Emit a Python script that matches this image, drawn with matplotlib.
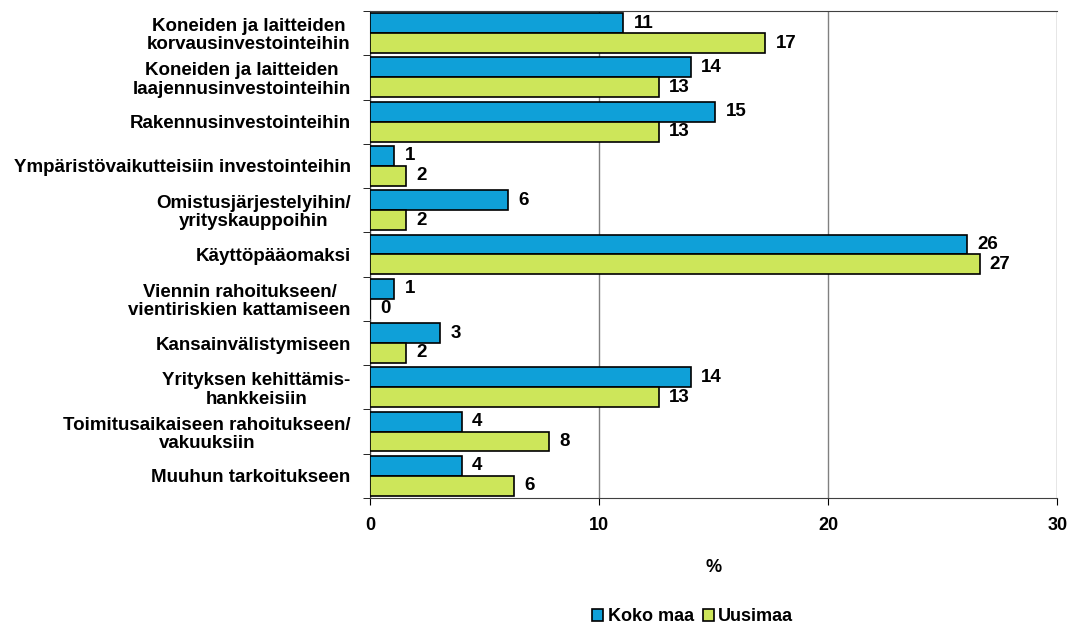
import matplotlib.pyplot as plt
import numpy as np

plt.rcParams['font.family'] = ['Liberation Sans', 'DejaVu Sans']
plt.rcParams['font.weight'] = 'bold'

categories = [
    'Koneiden ja laitteiden\nkorvausinvestointeihin',
    'Koneiden ja laitteiden\nlaajennusinvestointeihin',
    'Rakennusinvestointeihin',
    'Ympäristövaikutteisiin investointeihin',
    'Omistusjärjestelyihin/\nyrityskauppoihin',
    'Käyttöpääomaksi',
    'Viennin rahoitukseen/\nvientiriskien kattamiseen',
    'Kansainvälistymiseen',
    'Yrityksen kehittämis-\nhankkeisiin',
    'Toimitusaikaiseen rahoitukseen/\nvakuuksiin',
    'Muuhun tarkoitukseen',
]
koko_maa = [11.05, 14.0, 15.07, 1.05, 6.03, 26.07, 1.05, 3.06, 14.0, 4.0, 4.0]
uusimaa = [17.25, 12.6, 12.6, 1.57, 1.57, 26.6, 0.0, 1.57, 12.6, 7.8, 6.3]

fig = plt.figure(figsize=(10.79, 6.26), dpi=100)
ax = fig.add_axes([0.343, 0.2045, 0.637, 0.778])

y = np.arange(len(categories))
h = 0.45
b1 = ax.barh(y - h / 2, koko_maa, height=h, color='#0fa0d8', edgecolor='black', linewidth=1.2, label='Koko maa', zorder=3)
b2 = ax.barh(y + h / 2, uusimaa, height=h, color='#cde65a', edgecolor='black', linewidth=1.2, label='Uusimaa', zorder=3)

for bars, vals in ((b1, koko_maa), (b2, uusimaa)):
    for bar, v in zip(bars, vals):
        ax.text(v + 0.45, bar.get_y() + bar.get_height() / 2, f'{int(v + 0.5)}',
                va='center', ha='left', fontsize=13.5, fontweight='bold')

ax.set_xlim(0, 30)
ax.set_ylim(len(categories) - 0.5, -0.5)
ax.set_xticks([0, 10, 20, 30])
ax.set_xticklabels(['0', '10', '20', '30'], fontsize=13, fontweight='bold')
ax.tick_params(axis='x', length=5, pad=9)
ax.xaxis.grid(True, color='#808080', linewidth=1, zorder=0)

ax.set_yticks(y)
ax.set_yticklabels(categories, fontsize=13.5, fontweight='bold', linespacing=1.1, multialignment='center')
ax.tick_params(axis='y', length=0, pad=14)
ax.set_yticks(np.arange(len(categories) + 1) - 0.5, minor=True)
ax.tick_params(axis='y', which='minor', length=5)

for s in ax.spines.values():
    s.set_color('#404040')
ax.spines['right'].set_visible(False)

ax.set_xlabel('%', fontsize=13, fontweight='bold', labelpad=18)

fig.legend(loc='lower center', bbox_to_anchor=(0.642, -0.025), ncol=2, frameon=False,
           prop={'size': 13, 'weight': 'bold'},
           handlelength=0.6, handleheight=0.6, handletextpad=0.25, columnspacing=0.5)

fig.savefig('out.png', dpi=100)
